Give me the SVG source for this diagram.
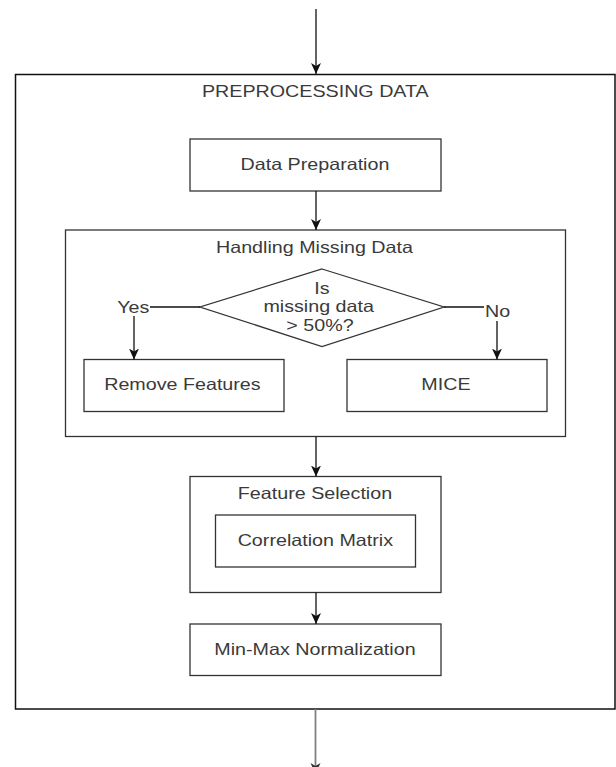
<svg xmlns="http://www.w3.org/2000/svg" width="616" height="767" viewBox="0 0 616 767">
<style>
.box{fill:#fff;stroke:#333;stroke-width:1.3}
.outer{fill:#fff;stroke:#111;stroke-width:1.5}
.t{font-family:"Liberation Sans",Arial,Helvetica,sans-serif;font-size:16.5px;fill:#3a3a3a;text-anchor:middle}
.e{fill:none;stroke:#111;stroke-width:1.3}
.eg{fill:none;stroke:#808080;stroke-width:1.8}
</style>
<defs>
<marker id="ah" markerUnits="userSpaceOnUse" markerWidth="14" markerHeight="14" refX="11" refY="5" orient="auto">
<path d="M0,0 L11,5 L0,10 L3,5 Z" fill="#111"/>
</marker>
<marker id="ahg" markerUnits="userSpaceOnUse" markerWidth="14" markerHeight="14" refX="11" refY="5" orient="auto">
<path d="M0,0 L11,5 L0,10 L3,5 Z" fill="#333"/>
</marker>
</defs>
<g id="preprocessing">
<rect class="outer" x="15.5" y="74.5" width="599.5" height="634.5"/>
<text class="t" transform="scale(1.194,1)" x="264.1" y="97.3">PREPROCESSING DATA</text>
</g>
<g id="data-preparation">
<rect class="box" x="190" y="139" width="251" height="52"/>
<text class="t" transform="scale(1.194,1)" x="263.8" y="170">Data Preparation</text>
</g>
<g id="handling-missing">
<rect class="box" x="65.5" y="230" width="500" height="206.5"/>
<text class="t" transform="scale(1.194,1)" x="263.4" y="252.7">Handling Missing Data</text>
</g>
<g id="decision">
<polygon class="box" points="322,269 444,307 322,346.5 200,307"/>
<text class="t" transform="scale(1.194,1)" x="269.7" y="294">Is</text>
<text class="t" transform="scale(1.194,1)" x="266.9" y="312.5">missing data</text>
<text class="t" transform="scale(1.194,1)" x="268" y="331">&gt; 50%?</text>
</g>
<g id="remove-features">
<rect class="box" x="84" y="359.5" width="200" height="52"/>
<text class="t" transform="scale(1.194,1)" x="152.8" y="390">Remove Features</text>
</g>
<g id="mice">
<rect class="box" x="347" y="359.5" width="200" height="52"/>
<text class="t" transform="scale(1.194,1)" x="373.5" y="390.3">MICE</text>
</g>
<g id="feature-selection">
<rect class="box" x="190" y="476.5" width="251" height="116"/>
<text class="t" transform="scale(1.194,1)" x="263.8" y="499.3">Feature Selection</text>
</g>
<g id="correlation-matrix">
<rect class="box" x="215.5" y="515" width="200" height="52"/>
<text class="t" transform="scale(1.194,1)" x="264.1" y="546">Correlation Matrix</text>
</g>
<g id="min-max">
<rect class="box" x="190" y="624" width="251" height="51.5"/>
<text class="t" transform="scale(1.194,1)" x="263.8" y="655">Min-Max Normalization</text>
</g>
<g id="connectors">
<line class="e" x1="316" y1="9" x2="316" y2="74" marker-end="url(#ah)"/>
<line class="e" x1="316" y1="191" x2="316" y2="230" marker-end="url(#ah)"/>
<path class="e" d="M200,307 L134,307 L134,359.5" marker-end="url(#ah)"/>
<path class="e" d="M444,307 L497,307 L497,359.5" marker-end="url(#ah)"/>
<line class="e" x1="316" y1="436.5" x2="316" y2="476.5" marker-end="url(#ah)"/>
<line class="e" x1="316" y1="592.5" x2="316" y2="624" marker-end="url(#ah)"/>
<line class="eg" x1="315.5" y1="709" x2="315.5" y2="774" marker-end="url(#ahg)"/>
<rect x="117" y="299" width="33" height="17" fill="#fff"/>
<text class="t" transform="scale(1.194,1)" x="111.6" y="312.7">Yes</text>
<rect x="484" y="302" width="27" height="19" fill="#fff"/>
<text class="t" transform="scale(1.194,1)" x="416.7" y="317.3">No</text>
</g>
</svg>
